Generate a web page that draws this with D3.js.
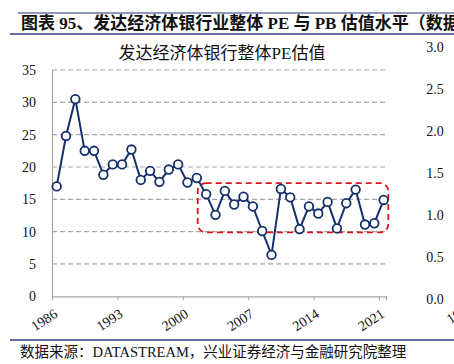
<!DOCTYPE html>
<html lang="zh">
<head>
<meta charset="UTF-8">
<title>发达经济体银行整体PE估值</title>
<style>
body {
    margin: 0;
    background-color: #fff;
}
svg text {
    font-family: "Liberation Serif", "Noto Sans CJK SC", serif;
    fill: #111;
}
</style>
</head>
<body>
<div id="plot"></div>
<script src="https://cdn.jsdelivr.net/npm/d3@7/dist/d3.min.js"></script>
<script>

const w = 454,
      h = 364;

// data
const years = d3.range(1986, 2022);
const pe = [17.0, 24.8, 30.5, 22.5, 22.5, 18.8, 20.4, 20.4, 22.7, 18.0,
            19.4, 17.7, 19.6, 20.4, 17.6, 18.3, 15.8, 12.6, 16.3, 14.2,
            15.4, 13.9, 10.1, 6.4, 16.6, 15.3, 10.4, 13.9, 12.8, 14.6,
            10.5, 14.4, 16.5, 11.1, 11.3, 14.9];
const xTicks = [1986, 1993, 2000, 2007, 2014, 2021];
const yTicks = [0, 5, 10, 15, 20, 25, 30, 35];
// right axis of the neighbouring PB chart (cut off in the source)
const pbTicks = [0, 0.5, 1.0, 1.5, 2.0, 2.5, 3.0];
// highlighted period
const boxYears = [2001.6, 2022];
const boxRange = [9.9, 17.5];

const svg = d3.select("#plot").append("svg")
    .attr("width", w)
    .attr("height", h);

// header
svg.append("line")
    .attr("x1", 18).attr("x2", w).attr("y1", 13).attr("y2", 13)
    .attr("stroke", "#6b76a6").attr("stroke-width", 1.5);
svg.append("line")
    .attr("x1", 10).attr("x2", w).attr("y1", 34).attr("y2", 34)
    .attr("stroke", "#2f3f7f").attr("stroke-width", 1.5);
svg.append("text")
    .attr("x", 21).attr("y", 29)
    .attr("font-size", 17).attr("font-weight", "bold")
    .text("图表 95、发达经济体银行业整体 PE 与 PB 估值水平（数据来源");

svg.append("text")
    .attr("x", 222).attr("y", 59)
    .attr("text-anchor", "middle")
    .attr("font-size", 17)
    .text("发达经济体银行整体PE估值");

// scales
const x = d3.scaleLinear().domain([1986, 2021.75]).range([52, 386]);
const y = d3.scaleLinear().domain([0, 35]).range([296.3, 70]);
const yPb = d3.scaleLinear().domain([0, 3]).range([299.3, 47]);

// gridlines
svg.selectAll(".grid")
    .data(yTicks.filter(d => d > 0))
    .join("line")
    .attr("class", "grid")
    .attr("x1", x(1986)).attr("x2", x(2021.75))
    .attr("y1", d => y(d)).attr("y2", d => y(d))
    .attr("stroke", "#a6a6a6")
    .attr("stroke-width", 1.2)
    .attr("stroke-dasharray", "5,3");

// y axis
const yAxis = svg.append("g")
    .attr("transform", `translate(${x(1986)},0)`)
    .call(d3.axisLeft(y).tickValues(yTicks).tickSize(0).tickPadding(16));
yAxis.select(".domain").attr("stroke", "#a6a6a6").attr("stroke-width", 1.2);
yAxis.selectAll("text").attr("font-size", 14).attr("font-family", "Liberation Serif");

// x axis
const xAxis = svg.append("g")
    .attr("transform", `translate(0,${y(0)})`)
    .call(d3.axisBottom(x).tickValues(xTicks).tickSize(4).tickFormat(d3.format("d")));
xAxis.select(".domain").attr("stroke", "#a6a6a6").attr("stroke-width", 1.2);
xAxis.selectAll("line").attr("stroke", "#a6a6a6");
xAxis.selectAll("text")
    .attr("font-size", 14).attr("font-family", "Liberation Serif")
    .attr("text-anchor", "end")
    .attr("dy", 0).attr("y", 0)
    .attr("transform", "translate(6,20) rotate(-33)");

// right axis labels (PB chart)
svg.selectAll(".pb")
    .data(pbTicks)
    .join("text")
    .attr("class", "pb")
    .attr("x", 435).attr("y", d => yPb(d))
    .attr("dy", "0.35em")
    .attr("text-anchor", "middle")
    .attr("font-size", 14)
    .text(d => d.toFixed(1));
svg.append("text")
    .attr("text-anchor", "end")
    .attr("font-size", 14)
    .attr("transform", "translate(474,309) rotate(-33)")
    .text("1986");

// highlight box
svg.append("rect")
    .attr("x", x(boxYears[0])).attr("y", y(boxRange[1]))
    .attr("width", x(boxYears[1]) - x(boxYears[0]))
    .attr("height", y(boxRange[0]) - y(boxRange[1]))
    .attr("rx", 8).attr("ry", 8)
    .attr("fill", "none")
    .attr("stroke", "#d9161c")
    .attr("stroke-width", 1.8)
    .attr("stroke-dasharray", "6,4");

// line + markers
const pts = years.map((d, i) => ({year: d, v: pe[i]}));
const line = d3.line().x(d => x(d.year + 0.5)).y(d => y(d.v));
svg.append("path")
    .datum(pts)
    .attr("d", line)
    .attr("fill", "none")
    .attr("stroke", "#13306b")
    .attr("stroke-width", 2);
svg.selectAll(".dot")
    .data(pts)
    .join("circle")
    .attr("class", "dot")
    .attr("cx", d => x(d.year + 0.5))
    .attr("cy", d => y(d.v))
    .attr("r", 4.3)
    .attr("fill", "#fff")
    .attr("stroke", "#13306b")
    .attr("stroke-width", 1.8);

// footer
svg.append("line")
    .attr("x1", 10).attr("x2", w).attr("y1", 340).attr("y2", 340)
    .attr("stroke", "#2f3f7f").attr("stroke-width", 1.5);
svg.append("text")
    .attr("x", 20).attr("y", 357)
    .attr("font-size", 14.5)
    .text("数据来源：DATASTREAM，兴业证券经济与金融研究院整理");
</script>
</body>
</html>
